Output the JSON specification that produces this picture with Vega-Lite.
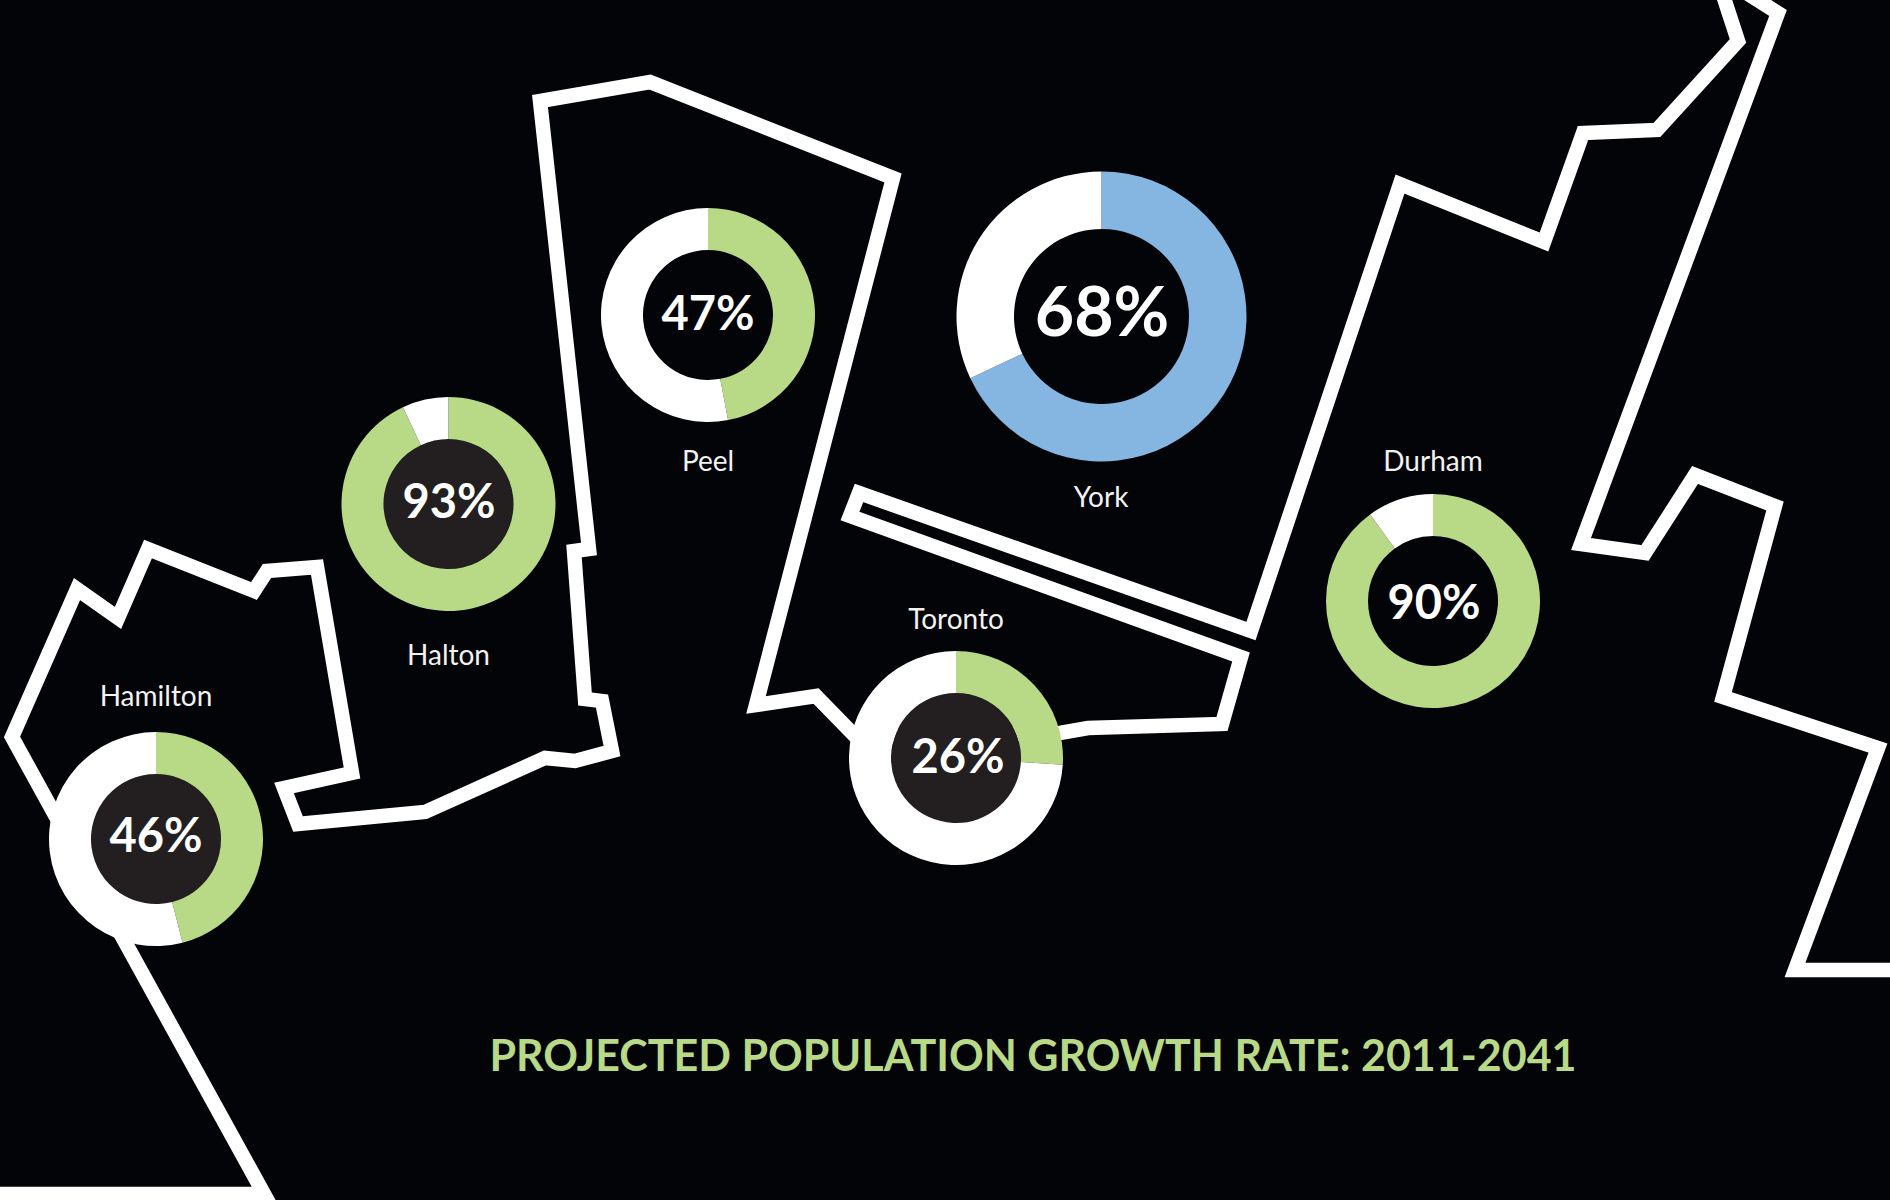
{
"$schema":"https://vega.github.io/schema/vega-lite/v6.json",
"width":1890,"height":1200,"padding":0,"autosize":{"type":"none"},
"background":"#030408",
"config":{"view":{"stroke":null}},
"datasets":{
"outline":[
{"path":"west","i":0,"x":-10,"y":1194},{"path":"west","i":1,"x":264,"y":1194},{"path":"west","i":2,"x":12,"y":737},{"path":"west","i":3,"x":77,"y":589},{"path":"west","i":4,"x":118,"y":618},{"path":"west","i":5,"x":148,"y":549},{"path":"west","i":6,"x":254,"y":591},{"path":"west","i":7,"x":267,"y":571},{"path":"west","i":8,"x":317,"y":567},{"path":"west","i":9,"x":352,"y":773},{"path":"west","i":10,"x":284,"y":788},{"path":"west","i":11,"x":298,"y":824},{"path":"west","i":12,"x":425,"y":812},{"path":"west","i":13,"x":545,"y":758},{"path":"west","i":14,"x":575,"y":761},{"path":"west","i":15,"x":612,"y":751},{"path":"west","i":16,"x":602,"y":701},{"path":"west","i":17,"x":585,"y":699},{"path":"west","i":18,"x":574,"y":551},{"path":"west","i":19,"x":589,"y":549},{"path":"west","i":20,"x":540,"y":101},{"path":"west","i":21,"x":650,"y":82},{"path":"west","i":22,"x":893,"y":178},{"path":"west","i":23,"x":756,"y":705},{"path":"west","i":24,"x":816,"y":696},{"path":"west","i":25,"x":856,"y":737},{"path":"west","i":26,"x":1060,"y":733},{"path":"west","i":27,"x":1088,"y":728},{"path":"west","i":28,"x":1222,"y":724},{"path":"west","i":29,"x":1241,"y":657},{"path":"west","i":30,"x":850,"y":516},{"path":"west","i":31,"x":859,"y":493},{"path":"west","i":32,"x":1251,"y":631},{"path":"west","i":33,"x":1400,"y":184},{"path":"west","i":34,"x":1544,"y":242},{"path":"west","i":35,"x":1583,"y":133},{"path":"west","i":36,"x":1657,"y":130},{"path":"west","i":37,"x":1738,"y":41},{"path":"west","i":38,"x":1722,"y":-8},
{"path":"east","i":0,"x":1745,"y":-8},{"path":"east","i":1,"x":1778,"y":13},{"path":"east","i":2,"x":1581,"y":544},{"path":"east","i":3,"x":1645,"y":553},{"path":"east","i":4,"x":1695,"y":475},{"path":"east","i":5,"x":1775,"y":506},{"path":"east","i":6,"x":1723,"y":697},{"path":"east","i":7,"x":1878,"y":748},{"path":"east","i":8,"x":1795,"y":970},{"path":"east","i":9,"x":1900,"y":970}
],
"cores":[
{"region":"Hamilton","x":156,"y":839},
{"region":"Halton","x":448.5,"y":504},
{"region":"Toronto","x":956,"y":758}
],
"rings":[
{"region":"Hamilton","x":156,"y":839,"from":0,"to":46,"part":"growth"},
{"region":"Hamilton","x":156,"y":839,"from":46,"to":100,"part":"rest"},
{"region":"Halton","x":448.5,"y":504,"from":0,"to":93,"part":"growth"},
{"region":"Halton","x":448.5,"y":504,"from":93,"to":100,"part":"rest"},
{"region":"Peel","x":708,"y":315,"from":0,"to":47,"part":"growth"},
{"region":"Peel","x":708,"y":315,"from":47,"to":100,"part":"rest"},
{"region":"Toronto","x":956,"y":758,"from":0,"to":26,"part":"growth"},
{"region":"Toronto","x":956,"y":758,"from":26,"to":100,"part":"rest"},
{"region":"Durham","x":1433,"y":601,"from":0,"to":90,"part":"growth"},
{"region":"Durham","x":1433,"y":601,"from":90,"to":100,"part":"rest"}
],
"york":[
{"region":"York","x":1101.5,"y":316.5,"from":0,"to":68,"part":"york growth"},
{"region":"York","x":1101.5,"y":316.5,"from":68,"to":100,"part":"rest"}
],
"labels":[
{"t":"Hamilton","x":156,"y":698},{"t":"Halton","x":448.5,"y":657},{"t":"Peel","x":708,"y":463},{"t":"York","x":1101,"y":499},{"t":"Toronto","x":956,"y":621},{"t":"Durham","x":1433,"y":463}
],
"values":[
{"t":"46%","x":156,"y":838},{"t":"93%","x":449,"y":504},{"t":"47%","x":708,"y":316},{"t":"26%","x":958,"y":759},{"t":"90%","x":1434,"y":605}
],
"yorkValue":[{"t":"68%","x":1102,"y":316}],
"title":[{"t":"PROJECTED POPULATION GROWTH RATE: 2011-2041","x":1033,"y":1058}]
},
"encoding":{
"x":{"field":"x","type":"quantitative","scale":{"domain":[0,1890]},"axis":null},
"y":{"field":"y","type":"quantitative","scale":{"domain":[1200,0]},"axis":null}
},
"layer":[
{"data":{"name":"outline"},"mark":{"type":"line","stroke":"#ffffff","strokeWidth":14.5,"strokeJoin":"miter","strokeMiterLimit":10,"clip":true},
 "encoding":{"detail":{"field":"path"},"order":{"field":"i","type":"quantitative"}}},
{"data":{"name":"cores"},"mark":{"type":"point","shape":"circle","filled":true,"fill":"#231f20","fillOpacity":1,"opacity":1,"strokeWidth":0,"size":16900}},
{"data":{"name":"rings"},"mark":{"type":"arc","outerRadius":107,"innerRadius":65},
 "encoding":{"theta":{"field":"from","type":"quantitative","stack":null,"scale":{"domain":[0,100],"range":[0,6.28318]}},"theta2":{"field":"to"},
 "fill":{"field":"part","type":"nominal","legend":null,"scale":{"domain":["growth","york growth","rest"],"range":["#b8d986","#85b6e2","#ffffff"]}}}},
{"data":{"name":"york"},"mark":{"type":"arc","outerRadius":145,"innerRadius":87.5},
 "encoding":{"theta":{"field":"from","type":"quantitative","stack":null,"scale":{"domain":[0,100],"range":[0,6.28318]}},"theta2":{"field":"to"},
 "fill":{"field":"part","type":"nominal","legend":null,"scale":{"domain":["growth","york growth","rest"],"range":["#b8d986","#85b6e2","#ffffff"]}}}},
{"data":{"name":"labels"},"mark":{"type":"text","font":"Lato","fontSize":28,"fill":"#f2f2f2","align":"center","baseline":"middle"},"encoding":{"text":{"field":"t"}}},
{"data":{"name":"values"},"mark":{"type":"text","font":"Lato","fontWeight":"bold","fontSize":47,"fill":"#ffffff","align":"center","baseline":"middle"},"encoding":{"text":{"field":"t"}}},
{"data":{"name":"yorkValue"},"mark":{"type":"text","font":"Lato","fontWeight":"bold","fontSize":68,"fill":"#ffffff","align":"center","baseline":"middle"},"encoding":{"text":{"field":"t"}}},
{"data":{"name":"title"},"mark":{"type":"text","font":"Lato","fontWeight":"bold","fontSize":43,"fill":"#b8d986","align":"center","baseline":"middle"},"encoding":{"text":{"field":"t"}}}
]
}
